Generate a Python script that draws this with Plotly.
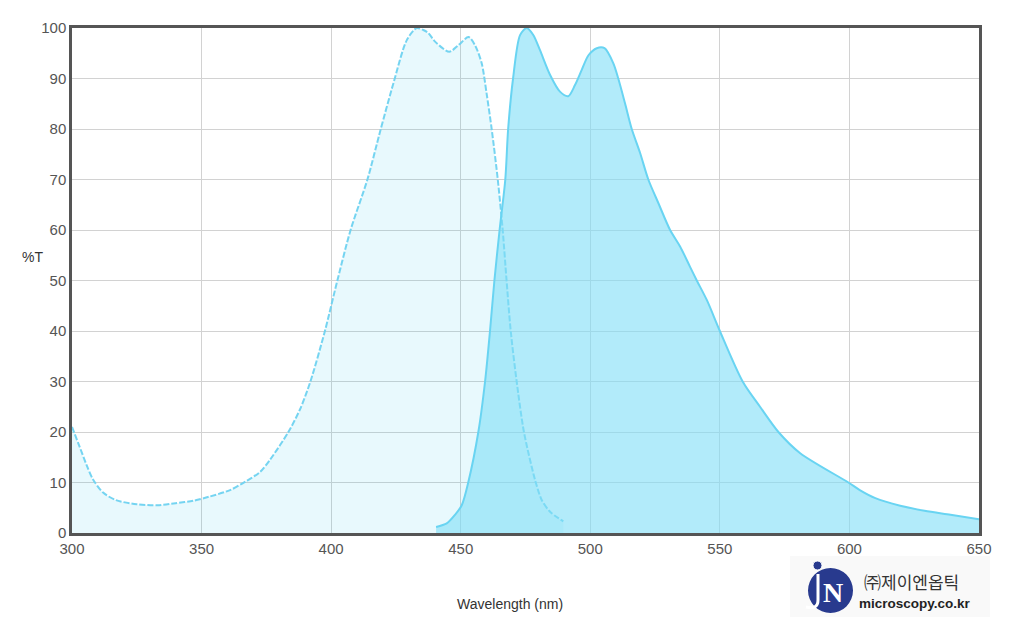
import plotly.graph_objects as go

# Excitation spectrum (dashed)
ex_wl = [300, 303, 305.6, 308, 312, 317, 325, 333, 340, 347, 353, 361, 367, 372.6,
         376.4, 383.5, 388, 392, 397.6, 402.4, 407.5, 414, 419, 424, 429.2, 433,
         435.6, 437.5, 440.1, 445.6, 449.1, 453, 455.5, 458.1, 460, 462, 464.3,
         466.2, 467.7, 469.3, 471.6, 474.4, 478.7, 481.3, 484.5, 489.6]
ex_t = [21, 17, 13.5, 10.7, 8, 6.5, 5.7, 5.5, 5.9, 6.4, 7.2, 8.5, 10.2, 12.1,
        14.5, 20, 24.5, 30, 40, 50, 60, 70, 79.7, 89, 97.6, 100,
        99.6, 99, 97.3, 95.3, 96.6, 98.2, 96.6, 93, 87, 79.8, 70,
        60, 50, 40, 30, 20, 10.5, 6.5, 4.2, 2.3]

# Emission spectrum (solid)
em_wl = [440.5, 444.6, 447.8, 450.4, 452.9, 456.8, 459.4, 461.3, 463, 465, 467.2,
         468.3, 470.2, 472.9, 475.5, 478, 480.6, 484.5, 488.3, 491.5, 494.1, 496.7,
         499.3, 502.5, 505.5, 508.9, 510.8, 513.4, 516, 519.2, 522.4, 526.3, 530.8,
         534.7, 538.5, 541.1, 545, 550, 558.8, 565.5, 572.6, 581, 599.6, 604, 610,
         619.6, 629, 639, 650]
em_t = [1.2, 1.9, 3.6, 5.5, 10, 20, 30, 40, 50, 60, 70,
        80, 90, 98.6, 100, 98.6, 95.6, 90.7, 87.4, 86.5, 88.7, 91.7,
        94.6, 96, 96, 93, 90, 85.1, 80, 75.3, 70, 65.3, 60,
        56.7, 52.7, 50, 46.1, 40, 30, 25, 20, 15.8, 10, 8.5, 6.9,
        5.4, 4.4, 3.6, 2.7]

x_ticks = [300, 350, 400, 450, 500, 550, 600, 650]
y_ticks = [0, 10, 20, 30, 40, 50, 60, 70, 80, 90, 100]

fig = go.Figure()
fig.add_trace(go.Scatter(
    x=ex_wl, y=ex_t, mode="lines", fill="tozeroy",
    fillcolor="rgba(0,185,235,0.09)",
    line=dict(color="rgba(110,210,240,0.95)", width=2, dash="6px,2px", shape="spline", smoothing=0.8),
    hoverinfo="skip", showlegend=False))
fig.add_trace(go.Scatter(
    x=em_wl, y=em_t, mode="lines", fill="tozeroy",
    fillcolor="rgba(127,222,247,0.6)",
    line=dict(color="rgb(105,212,242)", width=2, shape="spline", smoothing=0.8),
    hoverinfo="skip", showlegend=False))

L, R, T, B = 72, 45, 28, 84
W, H = 1024, 617
pw, ph = W - L - R, H - T - B

def px(x):
    return (x - L) / pw

def py(y):
    return (H - B - y) / ph

fig.update_layout(
    width=W, height=H,
    margin=dict(l=L, r=R, t=T, b=B),
    paper_bgcolor="white", plot_bgcolor="white",
    font=dict(family="Liberation Sans, Arial, sans-serif", color="#555"),
    xaxis=dict(range=[300, 650], tickvals=x_ticks, ticktext=[str(v) for v in x_ticks],
               showgrid=True, gridcolor="#d2d2d2", gridwidth=1,
               showline=True, linecolor="#555", linewidth=2.5, mirror=True,
               ticks="", tickfont=dict(size=15, color="#555"), zeroline=False),
    yaxis=dict(range=[0, 100], tickvals=y_ticks, ticktext=[str(v) for v in y_ticks],
               showgrid=True, gridcolor="#d2d2d2", gridwidth=1,
               showline=True, linecolor="#555", linewidth=2.5, mirror=True,
               ticks="", tickfont=dict(size=15, color="#555"), zeroline=False),
    annotations=[
        dict(text="Wavelength (nm)", xref="paper", yref="paper", x=px(510), y=py(604),
             showarrow=False, font=dict(size=14, color="#333"), xanchor="center", yanchor="middle"),
        dict(text="%T", xref="paper", yref="paper", x=px(32), y=py(257),
             showarrow=False, font=dict(size=14, color="#333"), xanchor="center", yanchor="middle"),
        dict(text="㈜제이엔옵틱", xref="paper", yref="paper", x=px(862), y=py(581),
             showarrow=False, font=dict(size=17, color="#333", family="Noto Sans CJK KR"),
             xanchor="left", yanchor="middle"),
        dict(text="<b>microscopy.co.kr</b>", xref="paper", yref="paper", x=px(857), y=py(603),
             showarrow=False, font=dict(size=13.5, color="#222", family="Liberation Sans"),
             xanchor="left", yanchor="middle"),
        dict(text="<b>N</b>", xref="paper", yref="paper", x=px(833), y=py(592),
             showarrow=False, font=dict(size=28, color="white", family="Liberation Serif"),
             xanchor="center", yanchor="middle"),
    ],
    shapes=[
        dict(type="rect", xref="paper", yref="paper", x0=px(790), x1=px(990), y0=py(556), y1=py(617),
             fillcolor="#f9f9f9", line=dict(width=0), layer="below"),
        dict(type="circle", xref="paper", yref="paper", x0=px(808), x1=px(853), y0=py(568), y1=py(613),
             fillcolor="#283a8e", line=dict(width=0)),
        dict(type="circle", xref="paper", yref="paper", x0=px(813), x1=px(822), y0=py(561), y1=py(570),
             fillcolor="#283a8e", line=dict(color="white", width=1)),
        dict(type="path", xref="paper", yref="paper",
             path=f"M {px(818)} {py(574)} L {px(818)} {py(600)} Q {px(818)} {py(610)} {px(806)} {py(607)}",
             line=dict(color="white", width=3)),
    ],
)

fig.write_html("out.html")
